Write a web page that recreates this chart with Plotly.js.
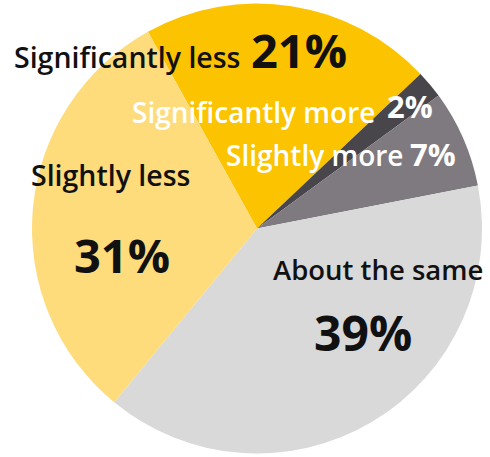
<!DOCTYPE html>
<html>
<head>
<meta charset="utf-8">
<script src="https://cdn.plot.ly/plotly-3.0.1.min.js"></script>
<style>html,body{margin:0;padding:0;background:#fff;}#chart{width:490px;height:457px;}</style>
</head>
<body>
<div id="chart"></div>
<script>
var categories = ["Significantly less", "Significantly more", "Slightly more", "About the same", "Slightly less"];
var values = [21, 2, 7, 39, 31];
var colors = ["#FCC300", "#48454B", "#7F7A80", "#D9D9D9", "#FEDC7C"];

var FONT = "'Open Sans', Lato, sans-serif";

var trace = {
  type: "pie",
  labels: categories,
  values: values,
  sort: false,
  direction: "clockwise",
  rotation: -29,
  marker: {colors: colors, line: {width: 0}},
  textinfo: "none",
  hoverinfo: "none",
  showlegend: false,
  domain: {x: [(257 - 225) / 490, (257 + 225) / 490], y: [(457 - 228.5 - 225) / 457, (457 - 228.5 + 225) / 457]}
};

function px(x) { return x / 490; }
function py(y) { return 1 - y / 457; }
function pct(i) { return values[i] + "%"; }

function ann(text, x, y, size, color, anchor, weight) {
  return {
    text: text, x: px(x), y: py(y), xref: "paper", yref: "paper",
    xanchor: anchor || "left", yanchor: "middle", showarrow: false,
    font: {family: FONT, size: size, color: color, weight: weight || 600}
  };
}

var annotations = [
  ann(categories[0], 12, 57, 28.5, "#111"),
  ann(pct(0), 249, 50, 47, "#111", "left", 700),
  ann(categories[1], 130, 112, 28, "#fff"),
  ann(pct(1), 385, 106, 31, "#fff", "left", 700),
  ann(categories[2], 224, 155, 28, "#fff"),
  ann(pct(2), 408, 154, 31, "#fff", "left", 700),
  ann(categories[4], 110.5, 175, 28.5, "#111", "center"),
  ann(pct(4), 121.5, 255, 47, "#111", "center", 700),
  ann(categories[3], 378, 269, 27.5, "#111", "center"),
  ann(pct(3), 362.5, 332, 48, "#111", "center", 700)
];

var layout = {
  width: 490, height: 457,
  margin: {l: 0, r: 0, t: 0, b: 0},
  paper_bgcolor: "#fff",
  showlegend: false,
  annotations: annotations
};

Plotly.newPlot("chart", [trace], layout, {displayModeBar: false, staticPlot: true});
</script>
</body>
</html>
